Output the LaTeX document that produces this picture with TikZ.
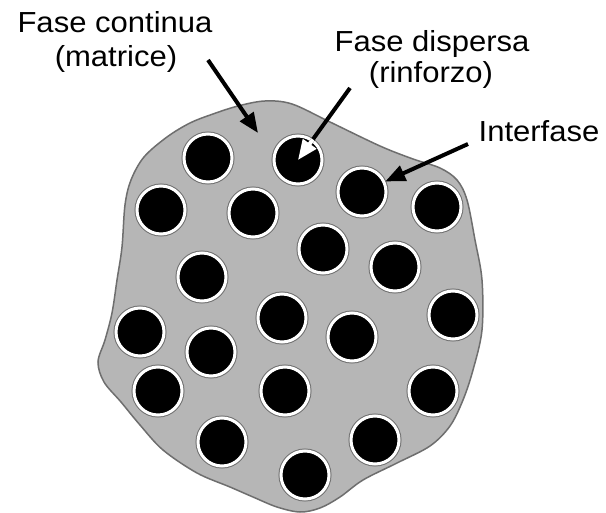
\documentclass[tikz,border=0pt]{standalone}
\usepackage{fontspec}
\setmainfont{Liberation Sans}[FakeStretch=1.07]
\usetikzlibrary{arrows.meta}
\definecolor{matgray}{RGB}{182,182,182}
\definecolor{edgegray}{RGB}{110,110,110}
\begin{document}
\begin{tikzpicture}[x=1pt,y=-1pt,
  fiber/.style={circle, inner sep=0pt, minimum size=48pt, fill=black, draw=white, line width=3pt,
    preaction={draw=edgegray, line width=5pt}},
  lbl/.style={anchor=base, inner sep=0pt, font=\fontsize{29}{34}\selectfont},
  arr/.style={line width=4pt, -{Triangle[length=20pt,width=16pt]}},
  warr/.style={line width=4pt, white, -{Triangle[length=20pt,width=16pt]}}]
\fill[white] (0,0) rectangle (606,513);
\useasboundingbox (0,0) rectangle (606,513);
% matrix
\draw[fill=matgray, draw=edgegray, line width=1.5pt]
  plot[smooth cycle, tension=0.55] coordinates {
  (265,101) (292,104) (330,122) (380,146) (413,159) (440,168) (457,180) (467,200)
  (475,240) (482,280) (482,330) (473,370) (463,400) (450,426) (430,446) (397,463)
  (363,480) (340,497) (320,508) (300,512) (277,507) (253,497) (230,487) (197,473)
  (163,450) (140,425) (121,402) (104,382) (98,362) (105,340) (112,313) (117,280)
  (122,247) (125,205) (131,180) (144,157) (167,137) (190,123) (213,114) (238,106)};
% fibres
\foreach \n/\x/\y in {1/208/158, 2/298/160, 3/362/192, 4/437/207, 5/161/210, 6/253/213,
  7/323/249, 8/395/267, 9/202/277, 10/282/318, 11/140/332, 12/211/352, 13/352/337,
  14/453/315, 15/158/391, 16/285/391, 17/433/391, 18/222/442, 19/375/440, 20/305/475}
  \node[fiber] (c\n) at (\x,\y) {};
% labels
\node[lbl] (fc1) at (115,33) {Fase continua};
\node[lbl] (fc2) at (116,67) {(matrice)};
\node[lbl] (fd1) at (432,52) {Fase dispersa};
\node[lbl] (fd2) at (431,83) {(rinforzo)};
\node[lbl] (inf) at (539,142) {Interfase};
% arrows
\coordinate (aS) at (208,60);
\coordinate (aE) at (258,133);
\coordinate (dS) at (350,88);
\coordinate (iS) at (468,144);
\draw[arr] (aS) -- (aE);
\draw[arr] (dS) -- (c2.center);
\begin{scope}
  \clip (c2.center) circle (25.5);
  \draw[warr] (dS) -- (c2.center);
\end{scope}
\draw[arr] (iS) -- (c3);
\end{tikzpicture}
\end{document}
